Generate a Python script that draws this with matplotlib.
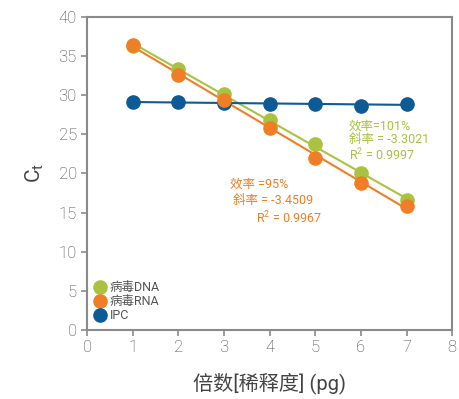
import numpy as np
import matplotlib
matplotlib.use("Agg")
import matplotlib.pyplot as plt

plt.rcParams['font.family'] = ['Roboto', 'Noto Sans CJK SC', 'DejaVu Sans']
plt.rcParams['font.weight'] = 'light'

# dilution steps and measured Ct values
dilution = np.array([1, 2, 3, 4, 5, 6, 7])
ct_dna = np.array([36.3, 33.3, 30.1, 26.8, 23.8, 20.0, 16.6])
ct_rna = np.array([36.4, 32.6, 29.4, 25.8, 22.0, 18.8, 15.8])
ct_ipc = np.array([29.1, 29.1, 29.0, 28.9, 28.9, 28.6, 28.9])

# standard-curve slopes
slope_dna = -3.3021
slope_rna = -3.4509

labels = ['病毒DNA', '病毒RNA', 'IPC']
c_dna = '#A9C23F'
c_rna = '#F07E26'
c_ipc = '#0C5A96'

fig = plt.figure(figsize=(4.59, 3.99), dpi=100)
ax = fig.add_axes([0.19, 0.173, 0.795, 0.785])

xfit = np.array([dilution.min(), dilution.max()])
b_dna = ct_dna.mean() - slope_dna * dilution.mean()
b_rna = ct_rna.mean() - slope_rna * dilution.mean()
p_ipc = np.polyfit(dilution, ct_ipc, 1)

ax.plot(xfit, b_dna + slope_dna * xfit, color=c_dna, lw=1.5, zorder=2)
ax.plot(xfit, b_rna + slope_rna * xfit, color=c_rna, lw=1.5, zorder=2)
ax.plot(xfit, np.polyval(p_ipc, xfit), color=c_ipc, lw=1.5, zorder=2)

ax.plot(dilution, ct_ipc, 'o', color=c_ipc, ms=9.5, label=labels[2], zorder=3)
ax.plot(dilution, ct_dna, 'o', color=c_dna, ms=9.5, label=labels[0], zorder=4)
ax.plot(dilution, ct_rna, 'o', color=c_rna, ms=9.5, label=labels[1], zorder=5)

ax.set_xlim(0, 8)
ax.set_ylim(0, 40)
ax.set_xticks(range(0, 9))
ax.set_yticks(range(0, 41, 5))
for s in ax.spines.values():
    s.set_color('#8a8a8a')
    s.set_linewidth(1.5)
ax.tick_params(axis='both', colors='#8a8a8a', labelcolor='#444444',
               labelsize=12, length=4, width=1.2, direction='out',
               top=False, right=False)

ax.set_xlabel('倍数[稀释度] (pg)', fontsize=14.5, color='#444444', labelpad=12)
ax.set_ylabel('C$_\\mathregular{t}$', fontsize=15, color='#444444',
              labelpad=9, rotation=90)

# annotations for the two standard curves
note = dict(fontsize=9, va='top', weight='normal')
ax.text(5.74, 26.9, '效率=101%\n斜率 = -3.3021\nR$^\\mathregular{2}$ = 0.9997',
        color=c_dna, ha='left', linespacing=1.05, **note)
ax.text(3.13, 19.4, '效率 =95%', color=c_rna, **note)
ax.text(3.19, 17.4, '斜率 = -3.4509', color=c_rna, **note)
ax.text(3.70, 15.4, 'R$^\\mathregular{2}$ = 0.9967', color=c_rna, **note)

h, l = ax.get_legend_handles_labels()
order = [1, 2, 0]
leg = ax.legend([h[i] for i in order], [l[i] for i in order], loc='lower left',
                frameon=False, prop={'size': 9, 'weight': 'normal'},
                handlelength=0.8, handletextpad=0.4,
                labelspacing=0.1, borderaxespad=0.2, labelcolor='#555555',
                bbox_to_anchor=(0.0, 0.0))

fig.savefig('out.png', dpi=100)
